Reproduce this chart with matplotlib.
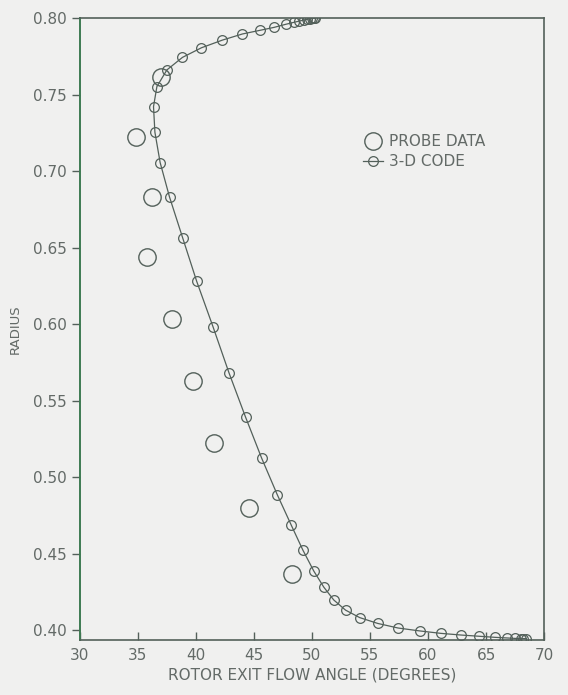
import matplotlib
matplotlib.use("Agg")
import matplotlib.pyplot as plt

# probe measurements: flow angle (deg) vs radius
probe_angle = [37.0, 34.9, 36.2, 35.8, 38.0, 39.8, 41.6, 44.6, 48.3]
probe_radius = [0.7615, 0.722, 0.683, 0.644, 0.6035, 0.563, 0.522, 0.4795, 0.4365]

# 3-D code prediction
code_angle = [50.3, 50.2, 50.05, 49.85, 49.6, 49.3, 48.9, 48.45, 47.74, 46.74,
              45.54, 44.02, 42.30, 40.50, 38.86, 37.52, 36.66, 36.37, 36.49,
              36.94, 37.75, 38.87, 40.09, 41.50, 42.87, 44.30, 45.68, 47.02,
              48.23, 49.23, 50.17, 51.03, 51.89, 52.90, 54.12, 55.67, 57.42,
              59.28, 61.11, 62.86, 64.41, 65.78, 66.79, 67.50, 67.99, 68.21, 68.45]
code_radius = [0.8000, 0.7999, 0.7998, 0.7996, 0.7992, 0.7987, 0.7980, 0.7972,
               0.7959, 0.7939, 0.7920, 0.7896, 0.7856, 0.7806, 0.7743, 0.7661,
               0.7552, 0.7421, 0.7254, 0.7056, 0.6830, 0.6566, 0.6279, 0.5981,
               0.5681, 0.5391, 0.5124, 0.4886, 0.4686, 0.4523, 0.4386, 0.4281,
               0.4197, 0.4131, 0.4082, 0.4044, 0.4014, 0.3995, 0.3979, 0.3968,
               0.3960, 0.3953, 0.3949, 0.3946, 0.3945, 0.3945, 0.3945]

xticks = [30, 35, 40, 45, 50, 55, 60, 65, 70]
yticks = [0.40, 0.45, 0.50, 0.55, 0.60, 0.65, 0.70, 0.75, 0.80]

bg = "#f0f0ef"
ink = "#53605a"
txt = "#636a67"

fig = plt.figure(figsize=(5.68, 6.95), dpi=100, facecolor=bg)
ax = fig.add_axes([0.140, 0.079, 0.818, 0.895], facecolor=bg)

ax.plot(probe_angle, probe_radius, linestyle="none", marker="o", ms=12.5,
        mfc="none", mec=ink, mew=1.0, label="PROBE DATA")
ax.plot(code_angle, code_radius, "-", color=ink, lw=0.9, marker="o", ms=7,
        mfc="none", mec=ink, mew=0.9, label="3-D CODE")

ax.set_xlim(30, 70)
ax.set_ylim(0.3935, 0.80)
ax.set_xticks(xticks)
ax.set_yticks(yticks)
ax.set_xticklabels([str(v) for v in xticks])
ax.set_yticklabels(["%.2f" % v for v in yticks])
ax.tick_params(axis="x", direction="in", length=6, width=1, colors=ink,
               labelcolor=txt, labelsize=11, pad=6)
ax.tick_params(axis="y", direction="out", length=6, width=1, colors=ink,
               labelcolor=txt, labelsize=11, pad=3)
for side in ["top", "right", "bottom"]:
    ax.spines[side].set_color(ink)
    ax.spines[side].set_linewidth(1.2)
ax.spines["left"].set_color("#3e7a52")
ax.spines["left"].set_linewidth(1.4)

ax.set_xlabel("ROTOR EXIT FLOW ANGLE (DEGREES)", fontsize=11, color=txt, labelpad=3)
ax.set_ylabel("RADIUS", fontsize=9.5, color=txt, labelpad=8)

leg = ax.legend(loc="upper left", bbox_to_anchor=(0.58, 0.835), frameon=False,
                fontsize=11, handlelength=1.3, handletextpad=0.4,
                labelspacing=0.3, markerscale=1.0)
for t in leg.get_texts():
    t.set_color(txt)

fig.savefig("out.png", dpi=100, facecolor=bg)
